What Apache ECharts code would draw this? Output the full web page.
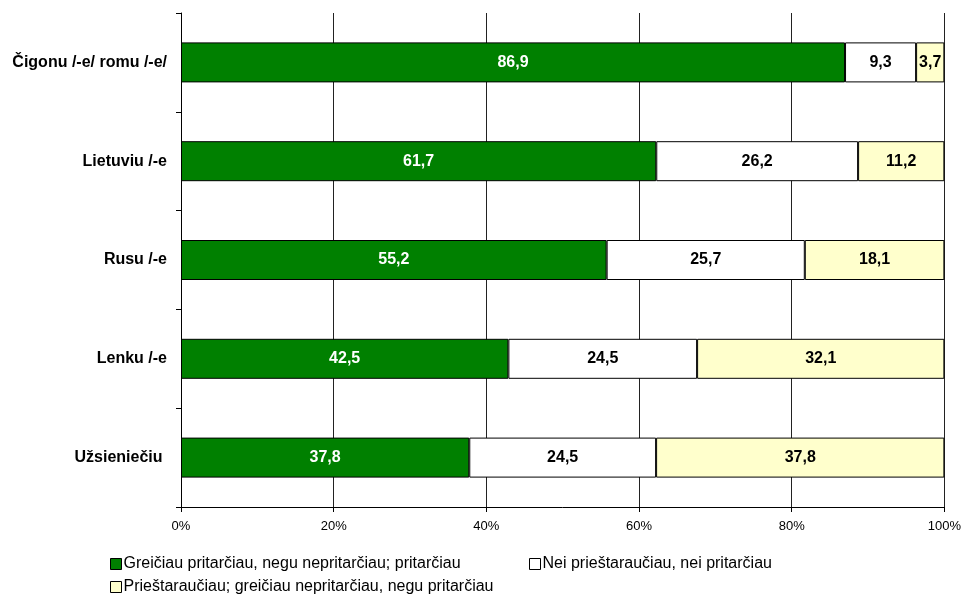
<!DOCTYPE html>
<html><head><meta charset="utf-8">
<script src="https://cdn.jsdelivr.net/npm/echarts@6/dist/echarts.min.js"></script>
<style>html,body{margin:0;padding:0;background:#fff}#c{width:964px;height:596px}</style>
</head><body><div id="c"></div>
<script>
const categories = ['Čigonu /-e/ romu /-e/', 'Lietuviu /-e', 'Rusu /-e', 'Lenku /-e', 'Užsieniečiu '];
const seriesNames = ['Greičiau pritarčiau, negu nepritarčiau; pritarčiau', 'Nei prieštaraučiau, nei pritarčiau', 'Prieštaraučiau; greičiau nepritarčiau, negu pritarčiau'];
const agree = [86.9, 61.7, 55.2, 42.5, 37.8];
const neutral = [9.3, 26.2, 25.7, 24.5, 24.5];
const disagree = [3.7, 11.2, 18.1, 32.1, 37.8];
const xTicks = ['0%', '20%', '40%', '60%', '80%', '100%'];

const FONT = '"Liberation Sans", Arial, sans-serif';
const raw = [agree, neutral, disagree];
const totals = categories.map((_, i) => raw.reduce((s, a) => s + a[i], 0));
const colors = ['#008000', '#FFFFFF', '#FFFFCC'];
const labelColors = ['#FFFFFF', '#000000', '#000000'];

const series = raw.map((arr, k) => ({
  name: seriesNames[k],
  type: 'bar',
  stack: 'total',
  barWidth: 40,
  itemStyle: { color: colors[k], borderColor: '#000', borderWidth: 1 },
  label: {
    show: true, position: 'inside', color: labelColors[k],
    fontFamily: FONT, fontWeight: 'bold', fontSize: 16,
    formatter: p => arr[p.dataIndex].toFixed(1).replace('.', ',')
  },
  data: arr.map((v, i) => v / totals[i] * 100)
}));

const chart = echarts.init(document.getElementById('c'), null, { renderer: 'canvas' });
chart.setOption({
  animation: false,
  backgroundColor: '#fff',
  grid: { left: 181, right: 19, top: 13, bottom: 89, containLabel: false },
  xAxis: {
    type: 'value', min: 0, max: 100, interval: 20,
    axisLine: { show: true, lineStyle: { color: '#000' } },
    axisTick: { show: true, length: 5, lineStyle: { color: '#000' } },
    axisLabel: { color: '#000', fontFamily: FONT, fontSize: 13, margin: 13,
      formatter: v => xTicks[Math.round(v / 20)] },
    splitLine: { show: true, lineStyle: { color: '#222', width: 1 } }
  },
  yAxis: {
    type: 'category', data: categories, inverse: true,
    axisLine: { show: true, lineStyle: { color: '#000' } },
    axisTick: { show: true, length: 5, lineStyle: { color: '#000' } },
    axisLabel: { color: '#000', fontFamily: FONT, fontSize: 16, fontWeight: 'bold', margin: 14 },
    splitLine: { show: false }
  },
  legend: [
    { data: [seriesNames[0]], left: 110, top: 556 },
    { data: [seriesNames[1]], left: 529, top: 556 },
    { data: [seriesNames[2]], left: 110, top: 579 }
  ].map(l => Object.assign(l, {
    orient: 'horizontal', icon: 'rect', itemWidth: 11, itemHeight: 11, itemGap: 4, padding: 0,
    textStyle: { fontFamily: FONT, fontSize: 16, color: '#000', padding: [0, 0, 0, -3] },
    itemStyle: { borderColor: '#000', borderWidth: 1 }
  })),
  series: series
});
</script></body></html>
